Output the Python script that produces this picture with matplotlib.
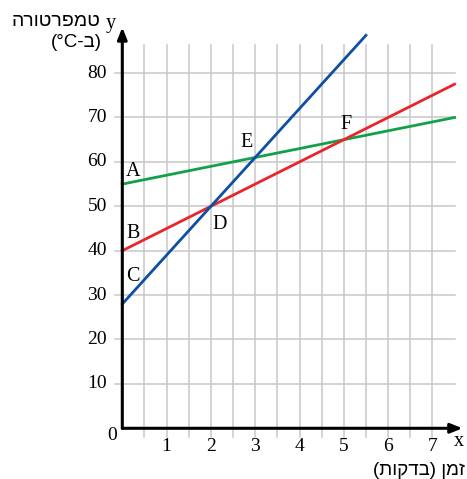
import matplotlib
matplotlib.use("Agg")
import matplotlib.pyplot as plt

# נתונים: שלושה קווים ישרים (זמן בדקות, טמפרטורה ב-C°)
green_x = [0, 7.5]
green_y = [55, 70]
red_x = [0, 7.5]
red_y = [40, 77.5]
blue_x = [0, 5.5]
blue_y = [28, 88.5]

x_ticks = [1, 2, 3, 4, 5, 6, 7]
y_ticks = [10, 20, 30, 40, 50, 60, 70, 80]
point_names = ["A", "B", "C", "D", "E", "F"]

SERIF = ["Liberation Serif", "DejaVu Serif"]
SANS = ["Liberation Sans", "DejaVu Sans"]
GRID = "#c8c8c8"

fig = plt.figure(figsize=(4.67, 4.79), dpi=100)
ax = fig.add_axes([0, 0, 1, 1])
ax.set_xlim(-2.761, 7.781)
ax.set_ylim(-11.42, 96.46)
ax.axis("off")

# רשת
for i in range(1, 15):
    gx = i * 0.5
    ax.plot([gx, gx], [-2, 86.3], color=GRID, lw=1.1, zorder=1)
for gy in y_ticks:
    ax.plot([-0.17, 7.5], [gy, gy], color=GRID, lw=1.1, zorder=1)

# צירים עם חיצים
arrow = dict(arrowstyle="-|>,head_length=0.7,head_width=0.28", lw=2.2,
             color="black", shrinkA=0, shrinkB=0)
ax.annotate("", xy=(7.68, 0), xytext=(0, 0), arrowprops=arrow, zorder=4)
ax.annotate("", xy=(0, 90.3), xytext=(0, 0), arrowprops=arrow, zorder=4)

# קווים
ax.plot(green_x, green_y, color="#12a14b", lw=2.0, zorder=3)
ax.plot(red_x, red_y, color="#e8252b", lw=2.0, zorder=3)
ax.plot(blue_x, blue_y, color="#0f4fa3", lw=2.0, zorder=3)

# תוויות ציר
for t in x_ticks:
    ax.text(t, -4.1, str(t), ha="center", va="center", fontsize=14, family=SERIF)
for t in y_ticks:
    ax.text(-0.345, t, str(t), ha="right", va="center", fontsize=14, family=SERIF)
ax.text(-0.23, -1.7, "0", ha="center", va="center", fontsize=14, family=SERIF)
ax.text(7.6, -2.9, "x", ha="center", va="center", fontsize=14.5, family=SERIF)
ax.text(-0.25, 91.2, "y", ha="center", va="center", fontsize=14.5, family=SERIF)

# נקודות
label_pos = [(0.24, 57.8), (0.24, 43.8), (0.24, 34.1), (2.19, 45.8), (2.8, 64.3), (5.05, 68.5)]
for name, (px, py) in zip(point_names, label_pos):
    ax.text(px, py, name, ha="center", va="center", fontsize=14.5, family=SERIF, zorder=5)

# כותרות בעברית (בסדר חזותי)
ax.text(-0.5, 91.7, "הרוטרפמט", ha="right", va="center", fontsize=14, family=SANS)
ax.text(-0.46, 87.0, "(°C-ב)", ha="right", va="center", fontsize=13.5, family=SANS)
ax.text(7.74, -9.4, "(תוקדב) ןמז", ha="right", va="center", fontsize=13.5, family=SANS)

fig.savefig("out.png", dpi=100)
